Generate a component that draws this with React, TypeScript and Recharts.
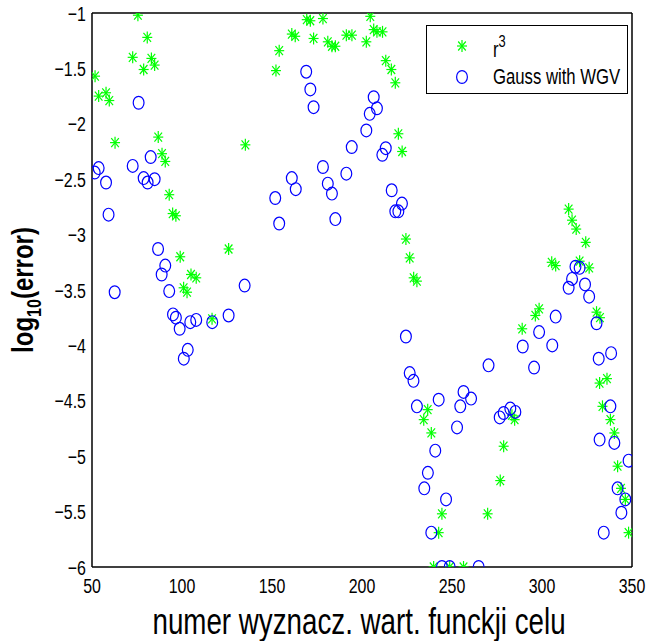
import { Scatter, ScatterChart, XAxis, YAxis } from "recharts";

// r^3 series
const r3X = [
  51.7, 53.7, 57.8, 59.6, 62.8, 72.6, 75.5, 78.7, 80.7, 83.0, 84.8, 86.8, 88.9, 90.7, 92.9, 94.8,
  96.6, 99.0, 100.9, 102.8, 105.0, 107.9, 116.7, 125.9, 135.2, 152.2, 154.0, 161.0, 162.9, 169.3,
  171.3, 173.1, 178.3, 181.0, 183.3, 185.2, 191.3, 194.4, 202.4, 204.6, 206.5, 208.3, 211.4, 213.2,
  216.3, 218.5, 220.2, 222.3, 224.4, 226.5, 228.7, 230.5, 234.3, 236.5, 238.5, 239.8, 242.6, 244.4,
  248.7, 256.4, 269.8, 276.8, 278.7, 283.3, 284.8, 289.0, 296.3, 298.4, 305.4, 307.6, 314.8, 316.7,
  319.0, 320.9, 324.3, 326.2, 330.3, 332.2, 332.0, 333.6, 336.1, 338.0, 340.2, 342.0, 343.9, 346.3,
  348.1,
];
const r3Y = [
  -1.57, -1.75, -1.72, -1.79, -2.17, -1.4, -1.02, -1.51, -1.22, -1.41, -1.47, -2.12, -2.27, -2.34,
  -2.64, -2.81, -2.83, -3.2, -3.48, -3.52, -3.36, -3.39, -3.76, -3.13, -2.19, -1.52, -1.34, -1.19,
  -1.21, -1.06, -1.07, -1.23, -1.05, -1.26, -1.3, -1.3, -1.2, -1.2, -1.26, -1.03, -1.15, -1.17,
  -1.17, -1.43, -1.51, -1.63, -2.09, -2.25, -3.04, -3.21, -3.39, -3.42, -4.67, -4.58, -4.79, -6.0,
  -5.69, -5.52, -6.0, -6.0, -5.52, -5.22, -4.91, -4.63, -4.67, -3.85, -3.73, -3.67, -3.25, -3.28,
  -2.77, -2.87, -2.95, -3.24, -3.07, -3.3, -3.7, -3.75, -4.34, -4.55, -4.3, -4.67, -4.79, -5.09,
  -5.29, -5.39, -5.69,
];

// Gauss with WGV series
const gaussX = [
  51.5, 53.7, 57.8, 59.2, 62.6, 72.6, 75.9, 78.7, 80.9, 82.6, 84.8, 86.7, 88.7, 90.7, 92.9, 95.0,
  96.6, 98.7, 101.0, 103.2, 104.6, 107.9, 116.8, 125.9, 134.8, 151.8, 154.0, 161.0, 163.2, 169.0,
  171.3, 173.1, 178.3, 181.0, 183.3, 185.2, 191.3, 194.3, 202.4, 204.3, 206.5, 208.3, 211.3, 213.2,
  216.5, 218.5, 220.2, 222.2, 224.4, 226.5, 228.6, 230.5, 234.6, 236.6, 238.5, 240.7, 242.6, 244.4,
  246.7, 248.7, 252.8, 254.6, 256.4, 260.6, 264.8, 270.3, 276.5, 278.7, 282.4, 285.2, 289.3, 295.6,
  298.4, 305.7, 307.6, 314.8, 316.7, 318.6, 320.9, 323.9, 326.2, 330.3, 331.5, 334.3, 332.0, 338.0,
  338.4, 340.2, 342.0, 344.1, 346.3, 348.1,
];
const gaussY = [
  -2.44, -2.4, -2.53, -2.82, -3.52, -2.38, -1.81, -2.49, -2.53, -2.3, -2.5, -3.13, -3.36, -3.28,
  -3.51, -3.72, -3.75, -3.85, -4.12, -4.04, -3.79, -3.77, -3.79, -3.73, -3.46, -2.67, -2.9, -2.49,
  -2.59, -1.53, -1.69, -1.85, -2.39, -2.54, -2.63, -2.86, -2.45, -2.21, -2.06, -1.91, -1.76, -1.86,
  -2.28, -2.22, -2.6, -2.79, -2.79, -2.72, -3.92, -4.25, -4.32, -4.55, -5.29, -5.15, -5.69, -4.95,
  -4.49, -6.0, -5.39, -6.0, -4.74, -4.55, -4.42, -4.48, -6.0, -4.18, -4.65, -4.61, -4.57, -4.6,
  -4.01, -4.2, -3.88, -4.0, -3.74, -3.48, -3.4, -3.29, -3.3, -3.45, -3.56, -3.8, -4.12, -5.69, -4.85,
  -4.55, -4.07, -4.88, -5.29, -5.51, -5.39, -5.04,
];

const xTicks = [50, 100, 150, 200, 250, 300, 350];
const yTicks = [-6, -5.5, -5, -4.5, -4, -3.5, -3, -2.5, -2, -1.5, -1];

const r3Data = r3X.map((x, i) => ({ x, y: r3Y[i] }));
const gaussData = gaussX.map((x, i) => ({ x, y: gaussY[i] }));

const GREEN = "#00ff00";
const BLUE = "#0000ff";
const FONT = "'Liberation Sans', Arial, Helvetica, sans-serif";
const SQUEEZE = 0.76; // matlab text is narrow

function Star({ cx, cy }: { cx?: number; cy?: number }) {
  if (cx == null || cy == null) return null;
  return (
    <g stroke={GREEN} strokeWidth={1.2}>
      <line x1={cx - 5} y1={cy} x2={cx + 5} y2={cy} />
      <line x1={cx} y1={cy - 6} x2={cx} y2={cy + 6} />
      <line x1={cx - 3.8} y1={cy - 4.5} x2={cx + 3.8} y2={cy + 4.5} />
      <line x1={cx - 3.8} y1={cy + 4.5} x2={cx + 3.8} y2={cy - 4.5} />
    </g>
  );
}

function Ring({ cx, cy }: { cx?: number; cy?: number }) {
  if (cx == null || cy == null) return null;
  return <ellipse cx={cx} cy={cy} rx={5.4} ry={6.4} fill="none" stroke={BLUE} strokeWidth={1.2} />;
}

const fmt = (v: number) => (v < 0 ? "\u2212" + Math.abs(v) : String(v));

function XTick({ x, y, payload }: any) {
  return (
    <g transform={`translate(${x},${y}) scale(${SQUEEZE},1)`}>
      <text x={0} y={18} textAnchor="middle" fontSize={21} fontFamily={FONT} fill="#000">
        {fmt(payload.value)}
      </text>
    </g>
  );
}

function YTick({ x, y, payload }: any) {
  return (
    <g transform={`translate(${x + 2},${y}) scale(${SQUEEZE},1)`}>
      <text x={0} y={7.5} textAnchor="end" fontSize={21} fontFamily={FONT} fill="#000">
        {fmt(payload.value)}
      </text>
    </g>
  );
}

function XLabel({ viewBox }: any) {
  const cx = viewBox.x + viewBox.width / 2;
  return (
    <g transform={`translate(${cx - 3},${viewBox.y + 67}) scale(0.75,1)`}>
      <text x={0} y={0} textAnchor="middle" fontSize={37} fontFamily={FONT} fill="#000">
        numer wyznacz. wart. funckji celu
      </text>
    </g>
  );
}

function YLabel({ viewBox }: any) {
  const cy = viewBox.y + viewBox.height / 2;
  return (
    <g transform={`translate(33,${cy}) rotate(-90) scale(0.8,1)`}>
      <text x={0} y={0} textAnchor="middle" fontSize={30} fontWeight="bold" fontFamily={FONT} fill="#000">
        log
        <tspan fontSize={20} dy={8}>
          10
        </tspan>
        <tspan dy={-8}>(error)</tspan>
      </text>
    </g>
  );
}

function LegendBox() {
  return (
    <div
      style={{
        position: "absolute",
        left: 426,
        top: 25,
        width: 200,
        height: 67,
        border: "1.5px solid #000",
        background: "#fff",
      }}
    >
      <svg width={200} height={67}>
        <Star cx={35} cy={20} />
        <g transform={`translate(66,31) scale(${SQUEEZE},1)`}>
          <text fontSize={22} fontFamily={FONT} fill="#000">
            r
            <tspan fontSize={17} dy={-10}>
              3
            </tspan>
          </text>
        </g>
        <Ring cx={35} cy={51} />
        <g transform={`translate(66,58) scale(${SQUEEZE},1)`}>
          <text fontSize={22} fontFamily={FONT} fill="#000">
            Gauss with WGV
          </text>
        </g>
      </svg>
    </div>
  );
}

export default function App() {
  const frame = { stroke: "#000", strokeWidth: 1.5 };
  const tickMark = { stroke: "#000", strokeWidth: 1 };
  return (
    <div style={{ position: "absolute", left: 0, top: 0, width: 648, height: 641, background: "#fff" }}>
      <ScatterChart width={648} height={641} margin={{ top: 13, right: 16, bottom: 0, left: 0 }}>
        <XAxis
          xAxisId="b"
          type="number"
          dataKey="x"
          domain={[50, 350]}
          ticks={xTicks}
          height={74}
          axisLine={false}
          tickLine={false}
          tick={(p: any) => <XTick {...p} />}
          label={{ content: (p: any) => <XLabel {...p} /> }}
          allowDataOverflow
        />
        <XAxis
          xAxisId="bm"
          type="number"
          orientation="bottom"
          mirror
          domain={[50, 350]}
          ticks={xTicks}
          tick={false}
          tickSize={6}
          axisLine={frame}
          tickLine={tickMark}
          allowDataOverflow
        />
        <XAxis
          xAxisId="tm"
          type="number"
          orientation="top"
          mirror
          domain={[50, 350]}
          ticks={xTicks}
          tick={false}
          tickSize={6}
          axisLine={frame}
          tickLine={tickMark}
          allowDataOverflow
        />
        <YAxis
          yAxisId="l"
          type="number"
          dataKey="y"
          domain={[-6, -1]}
          ticks={yTicks}
          width={92}
          axisLine={false}
          tickLine={false}
          tick={(p: any) => <YTick {...p} />}
          label={{ content: (p: any) => <YLabel {...p} /> }}
          allowDataOverflow
        />
        <YAxis
          yAxisId="lm"
          type="number"
          orientation="left"
          mirror
          domain={[-6, -1]}
          ticks={yTicks}
          tick={false}
          tickSize={6}
          axisLine={frame}
          tickLine={tickMark}
          allowDataOverflow
        />
        <YAxis
          yAxisId="rm"
          type="number"
          orientation="right"
          mirror
          domain={[-6, -1]}
          ticks={yTicks}
          tick={false}
          tickSize={6}
          axisLine={frame}
          tickLine={tickMark}
          allowDataOverflow
        />
        <Scatter
          name="r3"
          data={r3Data}
          xAxisId="b"
          yAxisId="l"
          shape={(p: any) => <Star cx={p.cx} cy={p.cy} />}
          isAnimationActive={false}
        />
        <Scatter
          name="Gauss with WGV"
          data={gaussData}
          xAxisId="b"
          yAxisId="l"
          shape={(p: any) => <Ring cx={p.cx} cy={p.cy} />}
          isAnimationActive={false}
        />
      </ScatterChart>
      <LegendBox />
    </div>
  );
}
